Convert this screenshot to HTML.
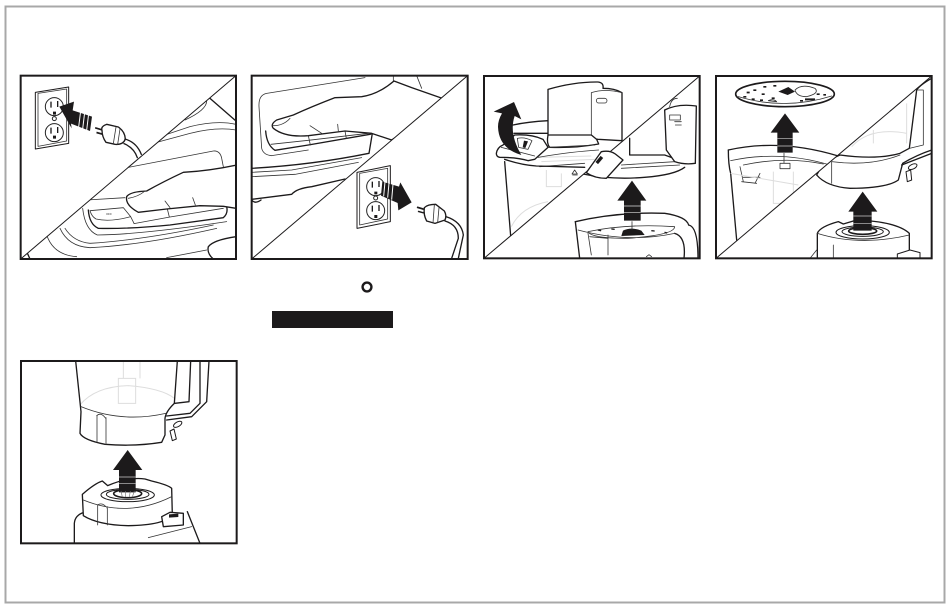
<!DOCTYPE html>
<html><head><meta charset="utf-8"><style>
html,body{margin:0;padding:0;background:#fff;width:950px;height:609px;overflow:hidden}
svg{display:block}
.l{fill:none;stroke:#1c1a1b;stroke-width:4;stroke-linejoin:round;stroke-linecap:round}
.t{fill:none;stroke:#333;stroke-width:2.4;stroke-linejoin:round;stroke-linecap:round}
.g{fill:none;stroke:#ddd;stroke-width:3}
.w{fill:#fff;stroke:#1c1a1b;stroke-width:4;stroke-linejoin:round}
.k{fill:#1c1a1b}
.b{fill:none;stroke:#1c1a1b;stroke-width:6}
</style></head><body>
<svg width="950" height="609" viewBox="0 0 950 609" xmlns="http://www.w3.org/2000/svg">
<defs>
<clipPath id="c1"><rect x="32" y="32" width="646" height="550"/></clipPath>
<clipPath id="c2"><rect x="20" y="32" width="648" height="550"/></clipPath>
<clipPath id="c3"><rect x="18" y="18" width="647" height="547"/></clipPath>
<clipPath id="u1"><path d="M32 582L678 32V582Z"/></clipPath>
<clipPath id="u2"><path d="M20 582L668 32H20Z"/></clipPath>
<clipPath id="p3a"><path d="M18 565L665 18H18Z"/></clipPath>
<clipPath id="p3b"><path d="M18 565L665 18V565Z"/></clipPath>
</defs>
<rect width="950" height="609" fill="#fff"/>
<rect x="5.5" y="6.5" width="939" height="596" fill="none" stroke="#a8a8a8" stroke-width="2"/>

<!-- Panel 1 -->
<g transform="translate(10,65) scale(.33333)">
<g clip-path="url(#c1)"><g clip-path="url(#u1)">
<path class="l" d="M600 100L678 168"/>
<path class="t" d="M590 108Q590 135 525 165M678 178Q620 165 540 185L450 215M678 195Q620 185 540 205L440 232"/>
<path class="t" d="M340 310L610 258Q632 256 636 285L640 305M230 405L345 398"/>
<path class="l" d="M235 435Q238 478 265 490Q360 492 480 480L640 458Q655 445 650 425"/>
<path class="t" d="M240 437L340 428L362 455Q300 472 258 462Q245 455 240 437ZM362 455L372 475M472 432L478 456M372 476L480 456L640 430M218 430Q225 495 262 510Q400 508 650 470"/>
<path class="t" d="M150 490Q175 545 240 548Q400 540 620 490M165 490Q190 530 240 535Q400 525 610 480"/>
<path class="t" d="M110 510Q130 570 200 575M470 578L590 555"/>
<path fill="#fff" stroke="#1c1a1b" stroke-width="4" stroke-linejoin="round" d="M690 298Q600 318 520 322Q460 350 410 378Q360 380 350 395Q345 420 385 442L470 432L570 422L640 424L690 432Z"/>
<path class="t" d="M465 408L480 428M548 398L556 420M355 400Q385 395 405 378"/>
<path class="l" d="M678 515Q610 525 595 545Q590 565 610 582"/>
<path class="l" d="M50 560L60 582"/>
<text x="288" y="450" font-family="Liberation Sans, sans-serif" font-size="9" fill="#333">OFF</text>
</g></g>
<path class="w" style="stroke-width:3" d="M76 82L176 66V235L76 252Z"/>
<path class="t" d="M84 85L170 72V228L84 244Z"/>
<circle cx="133" cy="125" r="27" fill="#fff" stroke="#222" stroke-width="3"/>
<circle cx="133" cy="203" r="27" fill="#fff" stroke="#222" stroke-width="3"/>
<circle cx="133" cy="161" r="6" fill="#fff" stroke="#222" stroke-width="3"/>
<path class="k" d="M121 110h4v18h-4zM141 108h4v18h-4zM129 140h9v9h-9zM121 188h4v18h-4zM141 186h4v18h-4zM129 212h9v9h-9z"/>
<path class="k" d="M148 125L192 110L188 136L246 155L240 198L183 176L185 190Z"/>
<path d="M212 138l-6 48M224 142l-6 50M236 146l-6 50" stroke="#fff" stroke-width="3"/>
<path class="w" d="M276 196Q272 184 290 178L325 186Q345 200 346 222Q340 240 315 238L288 232Q276 215 276 196Z"/>
<path class="t" d="M318 186L310 236M330 192L323 238"/>
<path class="k" d="M256 186l20 6l-1 5l-20-6zM260 200l18 5l-1 5l-18-5z"/>
<path class="l" d="M345 222Q380 232 394 268M342 236Q372 248 382 278"/>
<line x1="32" y1="582" x2="678" y2="32" stroke="#1c1a1b" stroke-width="3"/>
<rect x="32" y="32" width="646" height="550" class="b"/>
</g>

<!-- Panel 2 -->
<g transform="translate(245,65) scale(.33333)">
<g clip-path="url(#c2)"><g clip-path="url(#u2)">
<path class="t" d="M360 38L65 85Q40 90 42 125L50 250Q55 270 80 272L190 255M445 32L445 52M515 32L530 70"/>
<path class="l" d="M62 198Q65 240 90 256L190 240L375 208L382 205L372 265Q200 300 20 310"/>
<path class="t" d="M78 238L190 226L370 205M190 212L196 240M300 198L304 220M20 322L140 315L350 278M20 335L150 328L340 292"/>
<path fill="#fff" stroke="#1c1a1b" stroke-width="4" stroke-linejoin="round" d="M620 110L500 68L447 48Q400 88 350 95L270 98Q200 125 145 150L95 165Q75 178 85 190Q120 218 190 212L300 198L380 205L440 225Z"/>
<path class="t" d="M85 182Q115 182 135 160M195 182L230 205M278 178L280 198"/>
<path class="l" d="M20 403L140 388Q155 370 200 365L300 342M20 405Q30 418 48 405"/>
</g></g>
<path class="w" style="stroke-width:3" d="M336 322L436 302V470L336 490Z"/>
<path class="t" d="M344 325L428 310V462L344 480Z"/>
<circle cx="392" cy="365" r="27" fill="#fff" stroke="#222" stroke-width="3"/>
<circle cx="392" cy="437" r="27" fill="#fff" stroke="#222" stroke-width="3"/>
<circle cx="392" cy="399" r="6" fill="#fff" stroke="#222" stroke-width="3"/>
<path class="k" d="M380 350h4v18h-4zM400 348h4v18h-4zM388 380h9v8h-9zM380 422h4v18h-4zM400 420h4v18h-4zM388 450h9v9h-9z"/>
<path class="k" d="M412 350L462 365L466 352L500 412L460 436L458 414L408 392Z"/>
<path d="M420 350l-4 44M432 354l-4 44M444 358l-4 46" stroke="#fff" stroke-width="3"/>
<path class="w" d="M538 428Q548 418 572 418L598 438Q606 452 600 465L570 475L545 468Q535 450 538 428Z"/>
<path class="t" d="M568 420L564 474M582 428L578 472"/>
<path class="k" d="M517 424l20 6l-2 5l-20-6zM520 437l18 5l-2 4l-18-5z"/>
<path class="l" d="M603 455Q650 470 655 510L640 580M600 468Q640 480 640 520L620 580"/>
<line x1="20" y1="582" x2="668" y2="32" stroke="#1c1a1b" stroke-width="3"/>
<rect x="20" y="32" width="648" height="550" class="b"/>
</g>

<!-- Panel 3 -->
<g transform="translate(478,70) scale(.33333)">
<g clip-path="url(#p3a)">
<path class="g" d="M205 300V350H250V310M100 470Q130 410 210 395M180 262L340 258M190 275L350 268"/>
<path class="l" d="M80 275L98 498"/>
<path class="l" d="M105 165Q150 155 210 152M108 190L210 190"/>
<path class="w" d="M210 58Q290 35 360 36Q378 38 375 55Q410 55 432 68V212L360 208L210 195Z"/>
<path class="t" d="M340 68Q380 55 432 68M340 68V205"/>
<rect x="355" y="85" width="32" height="14" rx="7" class="t"/>
<path class="w" d="M210 195Q205 220 215 232Q290 235 362 222L356 208L340 195Z"/>
<path class="t" d="M180 262Q280 245 362 240M212 232L350 225M185 290L320 280"/>
<path class="l" d="M80 268Q130 285 175 288L320 292"/>
<path class="w" d="M55 250Q58 232 75 225L110 195Q160 192 195 208L210 232L170 268L150 272Q120 262 65 262Q55 260 55 250Z"/>
<path class="t" d="M118 205Q140 200 162 212L150 238L122 232Z"/>
<path class="k" d="M138 212l12 2l-8 20l-8-2z"/>
<path class="t" d="M70 232L170 258"/>
<path class="t" d="M290 300l-8 12h16zM284 315h14"/>
</g>
<g clip-path="url(#p3b)">
<path class="l" d="M315 312Q400 330 500 322Q590 315 620 292"/>
<path class="t" d="M430 285L590 275M430 295L605 285"/>
<path class="l" d="M455 205V255H560L588 265"/>
<path class="w" d="M560 120Q600 100 655 108L652 280Q620 285 590 275L565 240Z"/>
<path class="t" d="M575 135h32v15h-32zM590 155h20M592 165h18M575 110Q580 85 598 85"/>
<path class="l" d="M292 455Q420 425 560 430Q625 440 632 465"/>
<path class="l" d="M292 455L305 565M632 465Q660 470 660 565M590 490Q625 500 618 565"/>
<path class="t" d="M300 480Q450 520 590 490M330 485Q450 460 590 470Q590 495 450 505Q340 505 330 485M330 490L340 555M390 495V555M335 500L390 505"/>
<path class="k" d="M435 482Q460 470 490 482L500 495L430 498Z"/>
<path class="t" d="M462 455V478"/>
<path class="k" d="M360 478l10 2l-1 4l-10-2zM400 475l10 1v4l-10-1zM520 480l10 1v4l-10-1zM560 485l8 2l-1 4l-8-2z"/>
<path class="t" d="M505 560l8-6l8 6"/>
</g>
<path class="k" d="M47 125L108 96L130 148L110 138Q92 190 130 255Q62 235 60 170Q60 150 72 130Z"/>
<path class="k" d="M462 332L505 392H488V452H438V392H418Z"/>
<path d="M438 408H488M438 428H488" stroke="#ddd" stroke-width="2"/>
<line x1="18" y1="565" x2="665" y2="18" stroke="#1c1a1b" stroke-width="3"/>
<path class="w" d="M325 308L370 245Q395 240 412 252L435 270L385 325Q350 325 325 308Z"/>
<rect x="352" y="265" width="24" height="10" transform="rotate(-50 364 270)" class="k"/>
<rect x="18" y="18" width="647" height="547" class="b"/>
</g>

<!-- Panel 4 -->
<g transform="translate(710,70) scale(.33333)">
<g clip-path="url(#p3a)">
<path class="g" d="M190 305V400H250V305"/>
<ellipse cx="225" cy="72" rx="148" ry="38" fill="#fff" stroke="#1c1a1b" stroke-width="5"/>
<path class="t" d="M85 80Q225 122 365 78"/>
<path class="k" d="M205 65l30-14l20 14l-22 10zM285 85h30v6h-30zM110 65h9v5h-9zM130 58h9v5h-9zM155 70h9v5h-9zM185 82h9v5h-9zM125 85h9v5h-9zM160 48h9v5h-9zM100 78h9v5h-9zM150 88h9v5h-9zM190 45h9v5h-9zM320 70h9v5h-9zM340 72h8v5h-8zM270 90h9v5h-9z"/>
<path class="t" d="M255 60Q275 40 315 55Q330 70 290 80Q260 80 255 60ZM175 92Q190 85 200 95Z"/>
<path class="l" d="M55 240Q210 205 385 258"/>
<path class="l" d="M55 240Q55 285 62 310L80 510"/>
<path class="t" d="M62 272Q210 240 360 285M100 285Q225 258 340 282M210 280H240V296H210ZM222 250V278M90 290L100 335M150 310L135 340M100 322H150M95 335L140 340"/>
<path class="g" d="M62 310L265 345"/>
</g>
<g clip-path="url(#p3b)">
<path class="g" d="M490 180V220M590 100V220M425 230Q480 170 590 190"/>
<path class="w" d="M320 315Q340 275 390 255Q500 270 570 250L598 235L620 60Q630 45 665 25V240Q620 255 578 280L565 330Q530 355 420 355Q350 350 320 315Z"/>
<path class="t" d="M365 275V340M598 235L640 225L640 60L620 60M365 275Q480 290 570 255"/>
<path class="l" d="M575 285L665 250"/>
<path class="w" style="stroke-width:3" d="M588 305L602 300L605 330L592 335Z"/>
<ellipse cx="608" cy="290" rx="14" ry="7" transform="rotate(-25 608 290)" fill="#fff" stroke="#1c1a1b" stroke-width="3"/>
<path class="l" d="M322 490Q330 470 385 455L400 462L440 450Q560 455 598 490V565M322 490V565"/>
<path class="t" d="M322 490Q450 530 598 495M370 525V565M300 565L320 540"/>
<ellipse cx="458" cy="487" rx="80" ry="20" fill="#fff" stroke="#1c1a1b" stroke-width="3"/>
<ellipse cx="458" cy="485" rx="62" ry="14" fill="#fff" stroke="#1c1a1b" stroke-width="3"/>
<ellipse cx="458" cy="483" rx="42" ry="10" fill="#fff" stroke="#1c1a1b" stroke-width="5"/>
<path class="w" style="stroke-width:3" d="M562 552L600 540L630 548V565H562Z"/>
</g>
<path class="k" d="M225 130L268 188H248V248H202V188H182Z"/>
<path d="M202 205H248M202 228H248" stroke="#ccc" stroke-width="2"/>
<path class="k" d="M458 365L502 425H485V482H430V425H415Z"/>
<path d="M430 438H485M430 460H485" stroke="#ccc" stroke-width="2"/>
<line x1="18" y1="565" x2="665" y2="18" stroke="#1c1a1b" stroke-width="3"/>
<rect x="18" y="18" width="647" height="547" class="b"/>
</g>

<!-- Panel 5 -->
<g transform="translate(15,355) scale(.33333)">
<g clip-path="url(#c3)">
<path class="g" d="M325 20V70M375 20V70M310 70H362V145H310ZM195 150Q240 95 340 92Q440 100 478 130"/>
<path class="l" d="M182 18L198 170L195 235Q205 255 270 268Q360 275 440 262L450 240L450 190Q452 170 478 145L487 18"/>
<path class="t" d="M198 155Q320 205 452 175M246 182V262M273 188V268M245 182Q258 170 272 190"/>
<path class="l" d="M480 145L522 140L527 18M455 183L525 175L555 145V18M455 195L530 185L575 140L582 18"/>
<path class="w" style="stroke-width:3" d="M465 228L477 222L484 252L472 257Z"/>
<ellipse cx="488" cy="208" rx="14" ry="7" transform="rotate(-30 488 208)" fill="#fff" stroke="#1c1a1b" stroke-width="3"/>
<path class="l" d="M178 565V505Q180 480 207 472M517 470L555 565"/>
<path class="w" d="M202 418Q240 385 262 378L278 392Q340 365 390 372L410 378Q460 390 470 400L472 480Q450 510 340 512Q250 510 205 482Z"/>
<path class="t" d="M205 435Q340 490 470 425M248 450V510M277 455V510M248 450Q262 440 277 460M400 548L530 515"/>
<ellipse cx="338" cy="420" rx="80" ry="20" fill="#fff" stroke="#1c1a1b" stroke-width="3"/>
<ellipse cx="338" cy="418" rx="64" ry="15" fill="#fff" stroke="#1c1a1b" stroke-width="3"/>
<ellipse cx="338" cy="416" rx="42" ry="12" fill="#fff" stroke="#1c1a1b" stroke-width="5"/>
<path class="w" d="M440 485L465 472L505 475V510L445 515Z"/>
<path class="k" d="M462 478l28-2v10l-28 2z"/>
</g>
<path class="k" d="M338 285L382 345H362V412H312V345H294Z"/>
<path d="M312 366H362M312 385H362" stroke="#ccc" stroke-width="2"/>
<path d="M318 408l4 18M332 408v18M346 408l-3 18M358 408l-6 18" stroke="#777" stroke-width="2"/>
<rect x="18" y="18" width="647" height="547" class="b"/>
</g>

<circle cx="367" cy="287" r="4.4" fill="#fff" stroke="#1c1a1b" stroke-width="2.4"/>
<rect x="272" y="311" width="121" height="17" fill="#1c1a1b"/>
</svg>
</body></html>
